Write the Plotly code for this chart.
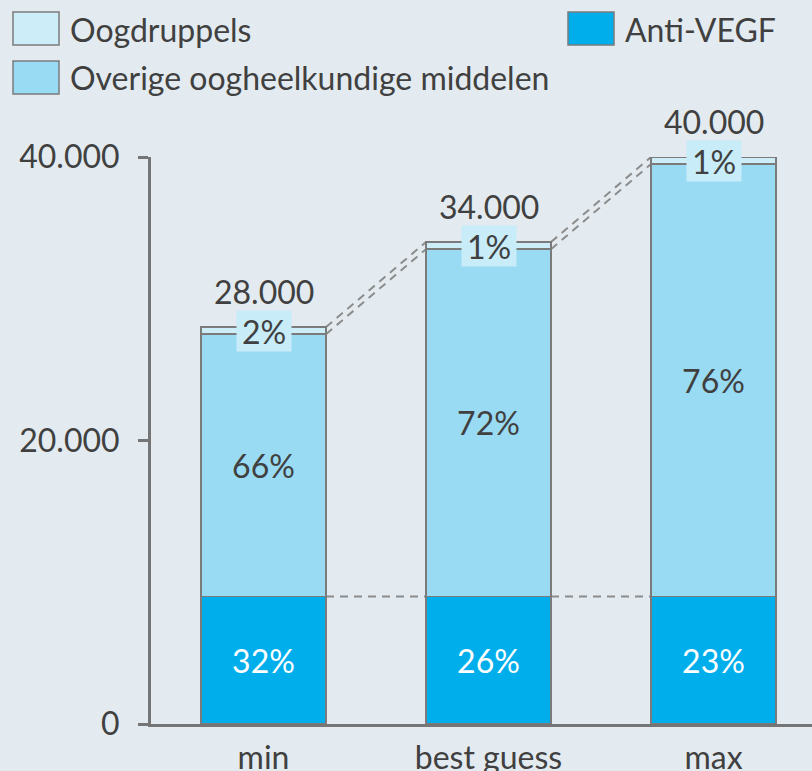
import math
import plotly.graph_objects as go

# Scenario categories and segment values (number of patients)
categories = ["min", "best guess", "max"]
anti_vegf = [9000, 9000, 9000]
overige = [18500, 24500, 30500]
oogdruppels = [500, 500, 500]
y_tickvals = [0, 20000, 40000]

totals = [a + o + d for a, o, d in zip(anti_vegf, overige, oogdruppels)]


def pct(part, whole):
    return f"{math.floor(part / whole * 100 + 0.5)}%"


BG = "#e3ebf0"
C_ANTI = "#00aeeb"
C_OVER = "#99dbf2"
C_DRUP = "#cdeef9"
C_LABELBOX = "#c8ecf8"
EDGE = "#7b7b7b"
AXIS = "#757575"
TXT = "#404040"
FONT = "Lato"
FS = 32

BAR_W = 125 / 225  # bar width in category units

fig = go.Figure()
fig.add_bar(
    x=categories, y=anti_vegf, name="Anti-VEGF",
    marker=dict(color=C_ANTI, line=dict(color=EDGE, width=1.5)),
    text=[pct(a, t) for a, t in zip(anti_vegf, totals)],
    textposition="inside", insidetextanchor="middle",
    textfont=dict(family=FONT, size=FS, color="white"),
    constraintext="none", hoverinfo="skip",
)
fig.add_bar(
    x=categories, y=overige, name="Overige oogheelkundige middelen",
    marker=dict(color=C_OVER, line=dict(color=EDGE, width=1.5)),
    text=[pct(o, t) for o, t in zip(overige, totals)],
    textposition="inside", insidetextanchor="middle",
    textfont=dict(family=FONT, size=FS, color=TXT),
    constraintext="none", hoverinfo="skip",
)
fig.add_bar(
    x=categories, y=oogdruppels, name="Oogdruppels",
    marker=dict(color=C_DRUP, line=dict(color=EDGE, width=1.5)),
    hoverinfo="skip",
)

annotations = []
shapes = []

# Totals above each bar and boxed labels for the thin top segment
for i, (a, o, d, t) in enumerate(zip(anti_vegf, overige, oogdruppels, totals)):
    annotations.append(dict(
        x=i, y=t, xref="x", yref="y", text=f"{t:,}".replace(",", "."),
        showarrow=False, yanchor="bottom", yshift=14,
        font=dict(family=FONT, size=FS, color=TXT),
    ))
    annotations.append(dict(
        x=i, y=a + o + d / 2, xref="x", yref="y", text=pct(d, t),
        showarrow=False, bgcolor=C_LABELBOX, width=52, height=38,
        font=dict(family=FONT, size=FS, color=TXT),
    ))

# Dashed connectors between neighbouring bars
dash_line = dict(color="#8c8c8c", width=2, dash="8px,6px")
for i in range(len(categories) - 1):
    x0 = i + BAR_W / 2
    x1 = i + 1 - BAR_W / 2
    tops0 = [totals[i], anti_vegf[i] + overige[i]]
    tops1 = [totals[i + 1], anti_vegf[i + 1] + overige[i + 1]]
    for y0, y1 in zip(tops0, tops1):
        shapes.append(dict(type="line", xref="x", yref="y", x0=x0, x1=x1,
                           y0=y0, y1=y1, line=dash_line, layer="below"))
    shapes.append(dict(type="line", xref="x", yref="y", x0=x0, x1=x1,
                       y0=anti_vegf[i], y1=anti_vegf[i + 1],
                       line=dash_line, layer="below"))

# Legend drawn in pixel positions converted to paper coordinates
PL, PR, PT, PB = 151, 812, 157, 724


def px_x(p):
    return (p - PL) / (PR - PL)


def px_y(p):
    return (PB - p) / (PB - PT)


legend_items = [
    ("Oogdruppels", C_DRUP, 13, 12),
    ("Overige oogheelkundige middelen", C_OVER, 13, 61),
    ("Anti-VEGF", C_ANTI, 568, 12),
]
for label, color, lx, ly in legend_items:
    shapes.append(dict(type="rect", xref="paper", yref="paper",
                       x0=px_x(lx), x1=px_x(lx + 46), y0=px_y(ly), y1=px_y(ly + 33),
                       fillcolor=color, line=dict(color=EDGE, width=1.5)))
    annotations.append(dict(
        x=px_x(lx + 55), y=px_y(ly + 17), xref="paper", yref="paper",
        text=label, showarrow=False, xanchor="left", yanchor="middle",
        font=dict(family=FONT, size=FS, color=TXT),
    ))

fig.update_layout(
    width=812, height=771,
    margin=dict(l=PL, r=0, t=PT, b=771 - PB, autoexpand=False),
    paper_bgcolor=BG, plot_bgcolor=BG,
    barmode="stack", bargap=1 - BAR_W,
    showlegend=False,
    separators=",.",
    font=dict(family=FONT, size=FS, color=TXT),
    annotations=annotations, shapes=shapes,
    uniformtext=dict(mode="show", minsize=FS),
)
fig.update_xaxes(
    range=[-0.5, -0.5 + (PR - PL) / 225], showgrid=False, zeroline=False,
    showline=True, linecolor=AXIS, linewidth=3, ticks="", automargin=False,
    tickfont=dict(family=FONT, size=FS, color=TXT), ticklabelstandoff=4,
)
fig.update_yaxes(
    range=[0, 40000], tickvals=y_tickvals, tickformat=",d", automargin=False,
    showgrid=False, zeroline=False, showline=True, linecolor=AXIS, linewidth=3,
    ticks="outside", ticklen=10, tickwidth=3, tickcolor=AXIS,
    tickfont=dict(family=FONT, size=FS, color=TXT), ticklabelstandoff=12,
)

fig.write_html("out.html")
